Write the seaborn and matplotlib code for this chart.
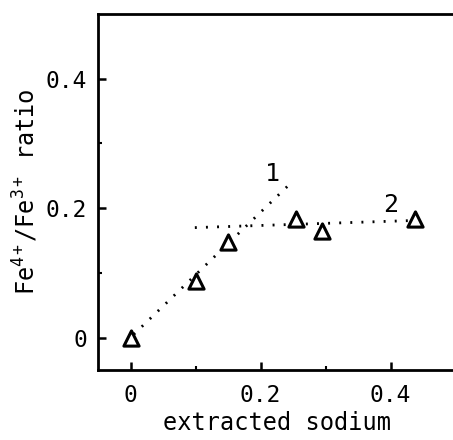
import matplotlib
matplotlib.use("Agg")
import matplotlib.pyplot as plt
import seaborn as sns
import pandas as pd
from matplotlib.ticker import FixedLocator

# Data
sodium = [0.0, 0.10, 0.15, 0.255, 0.295, 0.438]
ratio = [0.0, 0.088, 0.147, 0.183, 0.165, 0.183]

line1_x = [0.005, 0.25]
line1_y = [0.005, 0.242]
line2_x = [0.099, 0.436]
line2_y = [0.170, 0.181]

x_ticks = [0, 0.2, 0.4]
x_ticklabels = ["0", "0.2", "0.4"]
y_ticks = [0, 0.2, 0.4]
y_ticklabels = ["0", "0.2", "0.4"]

sns.set_style("ticks")
plt.rcParams['font.family'] = ['DejaVu Sans Mono', 'DejaVu Sans']
plt.rcParams['mathtext.fontset'] = 'custom'
plt.rcParams['mathtext.rm'] = 'DejaVu Sans Mono'
plt.rcParams['mathtext.it'] = 'DejaVu Sans Mono'
plt.rcParams['text.color'] = 'black'
plt.rcParams['axes.labelcolor'] = 'black'

fig = plt.figure(figsize=(4.53, 4.40), dpi=100)
ax = fig.add_axes([98/453, 70/440, 357.5/453, 356/440])

df = pd.DataFrame({"sodium": sodium, "ratio": ratio})
sns.lineplot(x=line1_x, y=line1_y, ax=ax, color="black", lw=2.0,
             linestyle=(0, (0.7, 3.3)))
sns.lineplot(x=line2_x, y=line2_y, ax=ax, color="black", lw=2.0,
             linestyle=(0, (0.7, 3.3)))
sns.scatterplot(data=df, x="sodium", y="ratio", ax=ax, marker="^", s=120,
                facecolor="white", edgecolor="black", linewidth=2.2, zorder=5)

ax.text(0.218, 0.253, "1", fontsize=18, ha="center", va="center", color="black")
ax.text(0.40, 0.205, "2", fontsize=18, ha="center", va="center", color="black")

ax.set_xlim(-0.05, 0.5)
ax.set_ylim(-0.05, 0.5)
ax.set_xticks(x_ticks)
ax.set_xticklabels(x_ticklabels)
ax.set_yticks(y_ticks)
ax.set_yticklabels(y_ticklabels)
ax.xaxis.set_minor_locator(FixedLocator([0.1, 0.3]))
ax.yaxis.set_minor_locator(FixedLocator([0.1, 0.3]))
ax.tick_params(which="major", direction="in", length=6, width=1.8,
               labelsize=16.5, color="black", labelcolor="black")
ax.tick_params(axis="x", which="major", pad=10)
ax.tick_params(axis="y", which="major", pad=8)
ax.tick_params(which="minor", direction="in", length=3, width=1.5, color="black")

for s in ax.spines.values():
    s.set_linewidth(2)
    s.set_color("black")

ax.set_xlabel("extracted sodium", fontsize=17, labelpad=3, color="black")
ax.set_ylabel("Fe$^{4+}$/Fe$^{3+}$ ratio", fontsize=17, labelpad=4, color="black")

fig.savefig("out.png", dpi=100)
